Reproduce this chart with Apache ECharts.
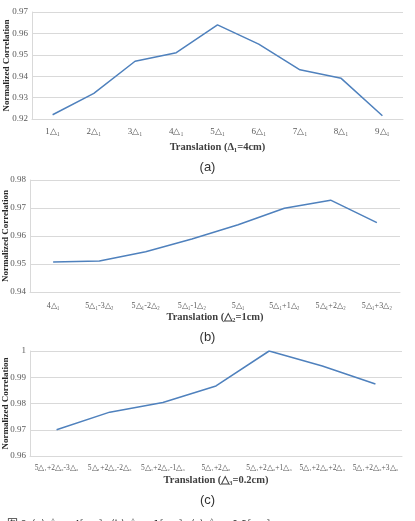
<!DOCTYPE html>
<html>
<head>
<meta charset="utf-8">
<script src="https://cdn.jsdelivr.net/npm/echarts@6/dist/echarts.min.js"></script>
<style>
html, body { margin: 0; padding: 0; background: #fff; }
#main { width: 415px; height: 521px; }
</style>
</head>
<body>
<div id="main"></div>
<script>
// chart (a)
var catsA = ['1△₁', '2△₁', '3△₁', '4△₁', '5△₁', '6△₁', '7△₁', '8△₁', '9△₁'];
var valsA = [0.922, 0.932, 0.947, 0.951, 0.964, 0.955, 0.943, 0.939, 0.9215];
// chart (b)
var catsB = ['4△₁', '5△₁-3△₂', '5△₁-2△₂', '5△₁-1△₂', '5△₁', '5△₁+1△₂', '5△₁+2△₂', '5△₁+3△₂'];
var valsB = [0.9507, 0.9511, 0.9544, 0.9589, 0.964, 0.9699, 0.9728, 0.9648];
// chart (c)
var catsC = ['5△₁+2△₂-3△₃', '5△₁+2△₂-2△₃', '5△₁+2△₂-1△₃', '5△₁+2△₂', '5△₁+2△₂+1△₃', '5△₁+2△₂+2△₃', '5△₁+2△₂+3△₃'];
var valsC = [0.970, 0.9767, 0.9804, 0.9867, 1.0, 0.9943, 0.9874];

var serif = 'Liberation Serif';
var lineColor = '#4f81bd';

function xAx(idx, data, name, gap, margin, fs) {
    return {
        type: 'category', gridIndex: idx, data: data,
        boundaryGap: true,
        axisLine: { lineStyle: { color: '#d9d9d9' } },
        axisTick: { show: false },
        axisLabel: { interval: 0, margin: margin, fontFamily: serif, fontSize: fs, color: '#595959' },
        name: name, nameLocation: 'middle', nameGap: gap, nameMoveOverlap: false,
        nameTextStyle: { fontFamily: serif, fontWeight: 'bold', fontSize: 10.5, color: '#404040' }
    };
}
function yAx(idx, min, max, gap) {
    return {
        type: 'value', gridIndex: idx, min: min, max: max, interval: 0.01,
        axisLine: { show: true, lineStyle: { color: '#d9d9d9' } },
        axisTick: { show: false },
        splitLine: { lineStyle: { color: '#d9d9d9' } },
        axisLabel: { margin: 4, fontFamily: serif, fontSize: 9, color: '#595959',
            formatter: function (v) { return +v.toFixed(2) + ''; } },
        name: 'Normalized Correlation', nameLocation: 'middle', nameRotate: 90, nameGap: gap,
        nameMoveOverlap: false,
        nameTextStyle: { fontFamily: serif, fontWeight: 'bold', fontSize: 9, color: '#262626' }
    };
}
function ser(idx, vals) {
    return {
        type: 'line', xAxisIndex: idx, yAxisIndex: idx, data: vals,
        symbol: 'none', lineStyle: { color: lineColor, width: 1.5 }
    };
}

var chart = echarts.init(document.getElementById('main'));
chart.setOption({
    animation: false,
    title: [
        { text: '(a)', left: 'center', top: 156, textStyle: { fontFamily: 'Liberation Sans', fontWeight: 'normal', fontSize: 13, color: '#333' } },
        { text: '(b)', left: 'center', top: 326, textStyle: { fontFamily: 'Liberation Sans', fontWeight: 'normal', fontSize: 13, color: '#333' } },
        { text: '(c)', left: 'center', top: 489, textStyle: { fontFamily: 'Liberation Sans', fontWeight: 'normal', fontSize: 13, color: '#333' } },
        { text: '图 8  (a) △₁ = 4[cm],  (b) △₂ = 1[cm],  (c) △₃ = 0.2[cm]', left: 2, top: 513,
          textStyle: { fontFamily: 'Noto Sans CJK SC', fontWeight: 'normal', fontSize: 11, color: '#333' } }
    ],
    grid: [
        { left: 32, right: 12, top: 12, height: 107, containLabel: false, outerBoundsMode: 'none' },
        { left: 30, right: 15, top: 180, height: 112, containLabel: false, outerBoundsMode: 'none' },
        { left: 30, right: 13, top: 351, height: 105, containLabel: false, outerBoundsMode: 'none' }
    ],
    xAxis: [
        xAx(0, catsA, 'Translation (Δ₁=4cm)', 23, 8, 9),
        xAx(1, catsB, 'Translation (△₂=1cm)', 20, 10, 8),
        xAx(2, catsC, 'Translation (△₃=0.2cm)', 19, 8, 7.5)
    ],
    yAxis: [
        yAx(0, 0.92, 0.97, 21),
        yAx(1, 0.94, 0.98, 20),
        yAx(2, 0.96, 1.0, 20)
    ],
    series: [ser(0, valsA), ser(1, valsB), ser(2, valsC)]
});
</script>
</body>
</html>
